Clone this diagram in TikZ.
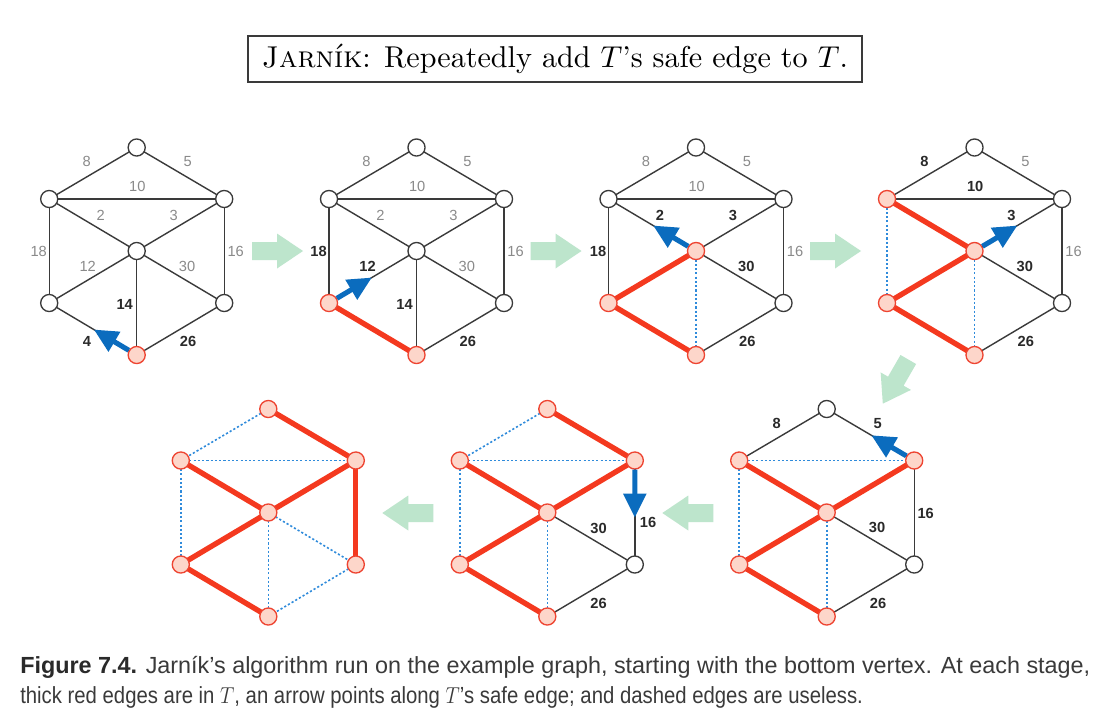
\documentclass[tikz,border=0pt]{standalone}
\usepackage{fontspec}
\usepackage{graphicx}
\usetikzlibrary{arrows.meta,calc,backgrounds}
\newfontfamily\labfont{Liberation Sans}
\newfontfamily\capfont{Liberation Sans}
\definecolor{edgegray}{HTML}{3A3A3A}
\definecolor{labgray}{HTML}{8A8A8A}
\definecolor{labdark}{HTML}{2A2A2A}
\definecolor{tred}{HTML}{F4391F}
\definecolor{vred}{HTML}{EE4431}
\definecolor{vpink}{HTML}{FDD6CA}
\definecolor{dotblue}{HTML}{2F8BDB}
\definecolor{arrowblue}{HTML}{0B6CBE}
\definecolor{greenarr}{HTML}{BDE5CC}
\definecolor{captext}{HTML}{3A3A3A}
\tikzset{
  wv/.style={circle, draw=edgegray, fill=white, line width=1pt, minimum size=12.8pt, inner sep=0pt},
  rv/.style={circle, draw=vred, fill=vpink, line width=1pt, minimum size=12.8pt, inner sep=0pt},
  ge/.style={draw=edgegray, line width=1.05pt},
  re/.style={draw=tred, line width=4pt},
  de/.style={draw=dotblue, line width=1.2pt, dash pattern=on 1.6pt off 1.6pt},
  lg/.style={font=\labfont\fontsize{11}{12}\selectfont, text=labgray, inner sep=0pt},
  lb/.style={font=\labfont\bfseries\fontsize{11}{12}\selectfont, text=labdark, inner sep=0pt},
  barrow/.style={draw=arrowblue, line width=3.8pt, -{Triangle[length=18pt,width=16.5pt]}},
}
\newcommand\vertices[8]{%
  \node[#2] (#1t) at (0,-103.5) {};
  \node[#3] (#1ul) at (-87.5,-52) {};
  \node[#4] (#1ur) at (87.5,-52) {};
  \node[#5] (#1c) at (0,0) {};
  \node[#6] (#1ll) at (-87.5,52) {};
  \node[#7] (#1lr) at (87.5,52) {};
  \node[#8] (#1b) at (0,104) {};}
\newcommand\gedge[3]{\draw[#1] (#2.center) -- (#3.center);}
\newcommand\garrow[3]{\begin{scope}[shift={#2},rotate=#3]
  \fill[greenarr] (0,-9) -- (25,-9) -- (25,-17.5) -- (51,0) -- (25,17.5) -- (25,9) -- (0,9) -- cycle;
  \coordinate (#1) at (0,0);
\end{scope}}
\begin{document}
\begin{tikzpicture}[x=0.75pt,y=-0.75pt]
\path[use as bounding box] (0,0) rectangle (1109,722);
\begin{pgfonlayer}{background}
\fill[white] (0,0) rectangle (1109,722);
\end{pgfonlayer}

% title
\node[draw=edgegray, line width=1.1pt, minimum width=460.5pt, minimum height=34.5pt, inner sep=0pt] (title) at (555,59)
  {\resizebox{439.5pt}{!}{\textsc{Jarník}: Repeatedly add $T$’s safe edge to $T$.}};

% ---------- graph 1 ----------
\begin{scope}[shift={(136.7,251)}]
\vertices{a}{wv}{wv}{wv}{wv}{wv}{wv}{rv}
\node[lg] (a8) at (-50,-89.3) {8};
\node[lg] (a5) at (51,-89.3) {5};
\node[lg] (a10) at (0.7,-64.3) {10};
\node[lg] (a2) at (-36,-36) {2};
\node[lg] (a3) at (37,-36) {3};
\node[lg] (a18) at (-98,0.7) {18};
\node[lg] (a16) at (99,0.7) {16};
\node[lg] (a12) at (-49,15) {12};
\node[lg] (a30) at (50.3,15) {30};
\node[lb] (a14) at (-12,53.3) {14};
\node[lb] (a4) at (-49.7,90.7) {4};
\node[lb] (a26) at (51.3,90.7) {26};
\end{scope}
\begin{pgfonlayer}{background}
\gedge{ge}{at}{aul}\gedge{ge}{at}{aur}\gedge{ge}{aul}{aur}\gedge{ge}{aul}{ac}
\gedge{ge}{aur}{ac}\gedge{ge}{aul}{all}\gedge{ge}{aur}{alr}\gedge{ge}{ac}{all}
\gedge{ge}{ac}{alr}\gedge{ge}{ac}{ab}\gedge{ge}{all}{ab}\gedge{ge}{alr}{ab}
\end{pgfonlayer}
\draw[barrow] (ab) -- ($(ab.center)!0.49!(all.center)$);

% ---------- graph 2 ----------
\begin{scope}[shift={(416.5,251)}]
\vertices{b}{wv}{wv}{wv}{wv}{rv}{wv}{rv}
\node[lg] (b8) at (-50,-89.3) {8};
\node[lg] (b5) at (51,-89.3) {5};
\node[lg] (b10) at (0.7,-64.3) {10};
\node[lg] (b2) at (-36,-36) {2};
\node[lg] (b3) at (37,-36) {3};
\node[lb] (b18) at (-98,0.7) {18};
\node[lg] (b16) at (99,0.7) {16};
\node[lb] (b12) at (-49,15) {12};
\node[lg] (b30) at (50.3,15) {30};
\node[lb] (b14) at (-12,53.3) {14};
\node[lb] (b26) at (51.3,90.7) {26};
\end{scope}
\begin{pgfonlayer}{background}
\gedge{ge}{bt}{bul}\gedge{ge}{bt}{bur}\gedge{ge}{bul}{bur}\gedge{ge}{bul}{bc}
\gedge{ge}{bur}{bc}\gedge{ge}{bul}{bll}\gedge{ge}{bur}{blr}\gedge{ge}{bc}{bll}
\gedge{ge}{bc}{blr}\gedge{ge}{bc}{bb}\gedge{re}{bll}{bb}\gedge{ge}{blr}{bb}
\end{pgfonlayer}
\draw[barrow] (bll) -- ($(bll.center)!0.49!(bc.center)$);

% ---------- graph 3 ----------
\begin{scope}[shift={(696,251)}]
\vertices{c}{wv}{wv}{wv}{rv}{rv}{wv}{rv}
\node[lg] (c8) at (-50,-89.3) {8};
\node[lg] (c5) at (51,-89.3) {5};
\node[lg] (c10) at (0.7,-64.3) {10};
\node[lb] (c2) at (-36,-36) {2};
\node[lb] (c3) at (37,-36) {3};
\node[lb] (c18) at (-98,0.7) {18};
\node[lg] (c16) at (99,0.7) {16};
\node[lb] (c30) at (50.3,15) {30};
\node[lb] (c26) at (51.3,90.7) {26};
\end{scope}
\begin{pgfonlayer}{background}
\gedge{ge}{ct}{cul}\gedge{ge}{ct}{cur}\gedge{ge}{cul}{cur}\gedge{ge}{cul}{cc}
\gedge{ge}{cur}{cc}\gedge{ge}{cul}{cll}\gedge{ge}{cur}{clr}\gedge{re}{cc}{cll}
\gedge{ge}{cc}{clr}\gedge{de}{cc}{cb}\gedge{re}{cll}{cb}\gedge{ge}{clr}{cb}
\end{pgfonlayer}
\draw[barrow] (cc) -- ($(cc.center)!0.49!(cul.center)$);

% ---------- graph 4 ----------
\begin{scope}[shift={(974.5,251)}]
\vertices{d}{wv}{rv}{wv}{rv}{rv}{wv}{rv}
\node[lb] (d8) at (-50,-89.3) {8};
\node[lg] (d5) at (51,-89.3) {5};
\node[lb] (d10) at (0.7,-64.3) {10};
\node[lb] (d3) at (37,-36) {3};
\node[lg] (d16) at (99,0.7) {16};
\node[lb] (d30) at (50.3,15) {30};
\node[lb] (d26) at (51.3,90.7) {26};
\end{scope}
\begin{pgfonlayer}{background}
\gedge{ge}{dt}{dul}\gedge{ge}{dt}{dur}\gedge{ge}{dul}{dur}\gedge{re}{dul}{dc}
\gedge{ge}{dur}{dc}\gedge{de}{dul}{dll}\gedge{ge}{dur}{dlr}\gedge{re}{dc}{dll}
\gedge{ge}{dc}{dlr}\gedge{de}{dc}{db}\gedge{re}{dll}{db}\gedge{ge}{dlr}{db}
\end{pgfonlayer}
\draw[barrow] (dc) -- ($(dc.center)!0.49!(dur.center)$);

% ---------- graph 5 ----------
\begin{scope}[shift={(826.7,512.5)}]
\vertices{e}{wv}{rv}{rv}{rv}{rv}{wv}{rv}
\node[lb] (e8) at (-50,-89.3) {8};
\node[lb] (e5) at (51,-89.3) {5};
\node[lb] (e16) at (99,0.7) {16};
\node[lb] (e30) at (50.3,15) {30};
\node[lb] (e26) at (51.3,90.7) {26};
\end{scope}
\begin{pgfonlayer}{background}
\gedge{ge}{et}{eul}\gedge{ge}{et}{eur}\gedge{de}{eul}{eur}\gedge{re}{eul}{ec}
\gedge{re}{eur}{ec}\gedge{de}{eul}{ell}\gedge{ge}{eur}{elr}\gedge{re}{ec}{ell}
\gedge{ge}{ec}{elr}\gedge{de}{ec}{eb}\gedge{re}{ell}{eb}\gedge{ge}{elr}{eb}
\end{pgfonlayer}
\draw[barrow] (eur) -- ($(eur.center)!0.49!(et.center)$);

% ---------- graph 6 ----------
\begin{scope}[shift={(547.3,512.5)}]
\vertices{f}{rv}{rv}{rv}{rv}{rv}{wv}{rv}
\node[lb] (f16) at (100.7,9.7) {16};
\node[lb] (f30) at (51.3,15.7) {30};
\node[lb] (f26) at (51.3,90.7) {26};
\end{scope}
\begin{pgfonlayer}{background}
\gedge{de}{ft}{ful}\gedge{re}{ft}{fur}\gedge{de}{ful}{fur}\gedge{re}{ful}{fc}
\gedge{re}{fur}{fc}\gedge{de}{ful}{fll}\gedge{ge}{fur}{flr}\gedge{re}{fc}{fll}
\gedge{ge}{fc}{flr}\gedge{de}{fc}{fb}\gedge{re}{fll}{fb}\gedge{ge}{flr}{fb}
\end{pgfonlayer}
\draw[barrow] (fur) -- ($(fur.center)!0.55!(flr.center)$);

% ---------- graph 7 ----------
\begin{scope}[shift={(268.3,512.5)}]
\vertices{g}{rv}{rv}{rv}{rv}{rv}{rv}{rv}
\end{scope}
\begin{pgfonlayer}{background}
\gedge{de}{gt}{gul}\gedge{re}{gt}{gur}\gedge{de}{gul}{gur}\gedge{re}{gul}{gc}
\gedge{re}{gur}{gc}\gedge{de}{gul}{gll}\gedge{re}{gur}{glr}\gedge{re}{gc}{gll}
\gedge{de}{gc}{glr}\gedge{de}{gc}{gb}\gedge{re}{gll}{gb}\gedge{de}{glr}{gb}
\end{pgfonlayer}

% ---------- green arrows ----------
\garrow{ga1}{(252,251)}{0}
\garrow{ga2}{(530.5,251)}{0}
\garrow{ga3}{(810,251)}{0}
\garrow{ga4}{(908.3,359.5)}{240}
\garrow{ga5}{(713.3,513)}{180}
\garrow{ga6}{(433.3,513)}{180}

% ---------- caption ----------
\node[anchor=base west, inner sep=0pt, text=captext] (cap1) at (20,673)
  {\resizebox{802.5pt}{\height}{\capfont\fontsize{17.5}{21}\selectfont{\bfseries\color{labdark}Figure 7.4.} Jarník’s algorithm run on the example graph, starting with the bottom vertex. At each stage,}};
\node[anchor=base west, inner sep=0pt, text=captext] (cap2) at (20,703)
  {\resizebox{632pt}{\height}{\capfont\fontsize{17.5}{21}\selectfont thick red edges are in $T$, an arrow points along $T$’s safe edge; and dashed edges are useless.}};
\end{tikzpicture}
\end{document}
